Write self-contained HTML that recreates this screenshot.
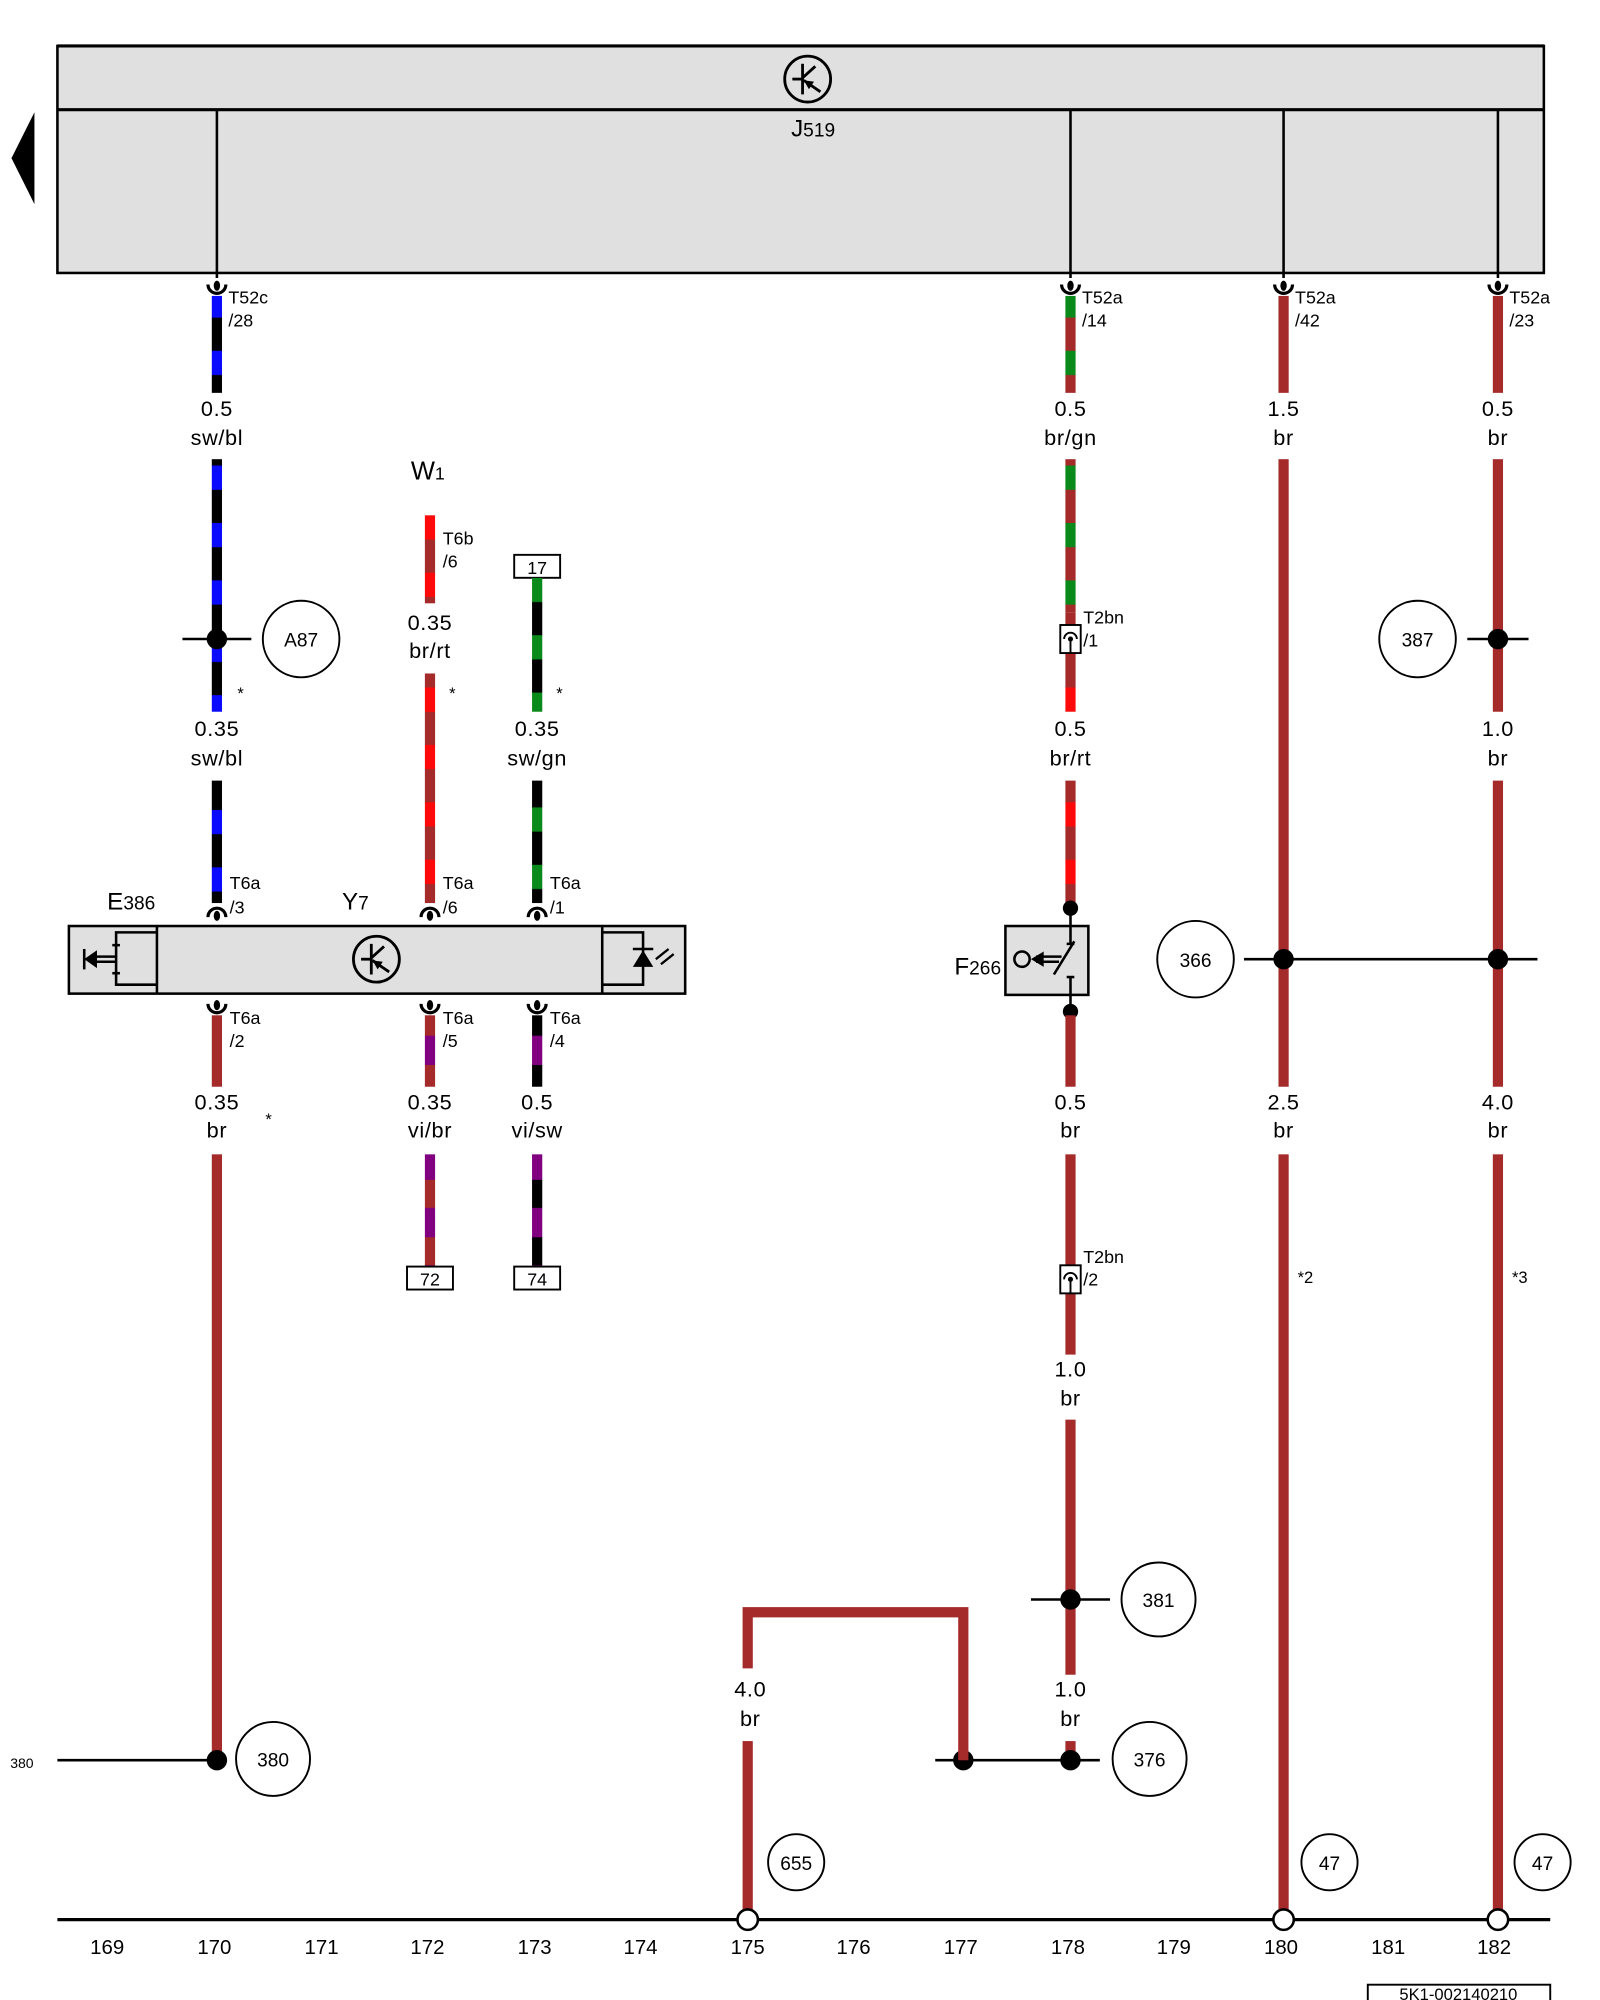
<!DOCTYPE html>
<html><head><meta charset="utf-8"><style>
html,body{margin:0;padding:0;background:#fff;}
svg{display:block;}
text{font-family:"Liberation Sans",Arial,sans-serif;fill:#000;}
.wl{font-size:17px;text-anchor:middle;letter-spacing:0.5px;}
.cl{font-size:14px;}
.ax{font-size:16px;text-anchor:middle;}
.cir{font-size:15px;text-anchor:middle;}
</style></head><body>
<svg width="1600" height="2000" viewBox="0 0 1254 1568" preserveAspectRatio="none" xmlns="http://www.w3.org/2000/svg">
<defs>
<pattern id="swbl" patternUnits="userSpaceOnUse" x="0" y="230" width="20" height="45"><rect width="20" height="45" fill="#000"/><rect width="20" height="19" fill="#0a0aff"/></pattern>
<pattern id="brgn" patternUnits="userSpaceOnUse" x="0" y="230" width="20" height="45"><rect width="20" height="45" fill="#a52a2a"/><rect width="20" height="19" fill="#0a8a1a"/></pattern>
<pattern id="brrt" patternUnits="userSpaceOnUse" x="0" y="404" width="20" height="45"><rect width="20" height="45" fill="#a52a2a"/><rect width="20" height="19" fill="#ff0a0a"/></pattern>
<pattern id="swgn" patternUnits="userSpaceOnUse" x="0" y="453" width="20" height="45"><rect width="20" height="45" fill="#000"/><rect width="20" height="19" fill="#0a8a1a"/></pattern>
<pattern id="vibr" patternUnits="userSpaceOnUse" x="0" y="790" width="20" height="45"><rect width="20" height="45" fill="#a52a2a"/><rect y="22" width="20" height="23" fill="#800080"/></pattern>
<pattern id="visw" patternUnits="userSpaceOnUse" x="0" y="790" width="20" height="45"><rect width="20" height="45" fill="#000"/><rect y="22" width="20" height="23" fill="#800080"/></pattern>
<g id="cu"><path d="M-7,-5 A7,7 0 0 0 7,-5" fill="none" stroke="#000" stroke-width="2.5"/><ellipse cx="0" cy="-4" rx="2.5" ry="4" fill="#000"/></g>
<g id="cn"><path d="M-7,5 A7,7 0 0 1 7,5" fill="none" stroke="#000" stroke-width="2.5"/><ellipse cx="0" cy="4" rx="2.5" ry="4" fill="#000"/></g>
<g id="t2"><rect x="-8" y="-11" width="16" height="22" fill="#fff" stroke="#000" stroke-width="1.5"/><path d="M-5,0 A5,5 0 0 1 5,0" fill="none" stroke="#000" stroke-width="1.5"/><line x1="0" y1="0" x2="0" y2="11" stroke="#000" stroke-width="1.5"/><circle cx="0" cy="0" r="2" fill="#000"/></g>
<g id="tr"><circle r="18" fill="none" stroke="#000" stroke-width="2.2"/><line x1="-4" y1="-12" x2="-4" y2="12" stroke="#000" stroke-width="2.2"/><line x1="-12" y1="0" x2="-4" y2="0" stroke="#000" stroke-width="2.2"/><line x1="-4" y1="-1" x2="6" y2="-10" stroke="#000" stroke-width="2.2"/><line x1="-3" y1="1" x2="10" y2="10" stroke="#000" stroke-width="2.2"/><polygon points="-3,1 5,2 1,8" fill="#000"/></g>
</defs>

<polygon points="27,88 27,160 9,124" fill="#000"/>

<rect x="45" y="36" width="1165" height="178" fill="#e0e0e0" stroke="#000" stroke-width="2"/>
<line x1="45" y1="86" x2="1210" y2="86" stroke="#000" stroke-width="2.5"/>
<line x1="45" y1="36" x2="1210" y2="36" stroke="#000" stroke-width="2.5"/>
<use href="#tr" x="633" y="62"/>
<text x="620" y="107" font-size="19">J<tspan font-size="15">519</tspan></text>
<g stroke="#000" stroke-width="2">
<line x1="170" y1="86" x2="170" y2="218"/>
<line x1="839" y1="86" x2="839" y2="218"/>
<line x1="1006" y1="86" x2="1006" y2="218"/>
<line x1="1174" y1="86" x2="1174" y2="218"/>
</g>
<use href="#cu" x="170" y="228"/><use href="#cu" x="839" y="228"/><use href="#cu" x="1006" y="228"/><use href="#cu" x="1174" y="228"/>
<text class="cl" x="179" y="238">T52c</text><text class="cl" x="179" y="256">/28</text>
<text class="cl" x="848" y="238">T52a</text><text class="cl" x="848" y="256">/14</text>
<text class="cl" x="1015" y="238">T52a</text><text class="cl" x="1015" y="256">/42</text>
<text class="cl" x="1183" y="238">T52a</text><text class="cl" x="1183" y="256">/23</text>

<rect x="166" y="232" width="8" height="76" fill="url(#swbl)"/>
<text class="wl" x="170" y="326">0.5</text><text class="wl" x="170" y="349">sw/bl</text>
<rect x="166" y="360" width="8" height="198" fill="url(#swbl)"/>
<line x1="143" y1="501" x2="197" y2="501" stroke="#000" stroke-width="2"/>
<circle cx="170" cy="501" r="8" fill="#000"/>
<circle cx="236" cy="501" r="30" fill="#fff" stroke="#000" stroke-width="1.5"/><text class="cir" x="236" y="507">A87</text>
<text x="186" y="548" font-size="13">*</text>
<text class="wl" x="170" y="577">0.35</text><text class="wl" x="170" y="600">sw/bl</text>
<rect x="166" y="612" width="8" height="96" fill="url(#swbl)"/>
<text class="cl" x="180" y="697">T6a</text><text class="cl" x="180" y="716">/3</text>
<rect x="166" y="796" width="8" height="56" fill="#a52a2a"/>
<text class="cl" x="180" y="803">T6a</text><text class="cl" x="180" y="821">/2</text>
<text class="wl" x="170" y="870">0.35</text><text class="wl" x="170" y="892">br</text>
<text x="208" y="882" font-size="13">*</text>
<rect x="166" y="905" width="8" height="475" fill="#a52a2a"/>
<line x1="45" y1="1380" x2="170" y2="1380" stroke="#000" stroke-width="2"/>
<text x="8" y="1386" font-size="11">380</text>
<circle cx="170" cy="1380" r="8" fill="#000"/>
<circle cx="214" cy="1379" r="29" fill="#fff" stroke="#000" stroke-width="1.5"/><text class="cir" x="214" y="1385">380</text>

<text x="322" y="376" font-size="20">W<tspan font-size="14">1</tspan></text>
<rect x="333" y="404" width="8" height="69" fill="url(#brrt)"/>
<text class="cl" x="347" y="427">T6b</text><text class="cl" x="347" y="445">/6</text>
<text class="wl" x="337" y="494">0.35</text><text class="wl" x="337" y="516">br/rt</text>
<rect x="333" y="528" width="8" height="180" fill="url(#brrt)"/>
<text x="352" y="548" font-size="13">*</text>
<text class="cl" x="347" y="697">T6a</text><text class="cl" x="347" y="716">/6</text>
<rect x="333" y="796" width="8" height="56" fill="url(#vibr)"/>
<text class="cl" x="347" y="803">T6a</text><text class="cl" x="347" y="821">/5</text>
<text class="wl" x="337" y="870">0.35</text><text class="wl" x="337" y="892">vi/br</text>
<rect x="333" y="905" width="8" height="88" fill="url(#vibr)"/>
<rect x="319" y="993" width="36" height="18" fill="#fff" stroke="#000" stroke-width="1.5"/><text x="337" y="1008" font-size="14" text-anchor="middle">72</text>

<rect x="403" y="435" width="36" height="18" fill="#fff" stroke="#000" stroke-width="1.5"/><text x="421" y="450" font-size="14" text-anchor="middle">17</text>
<rect x="417" y="453" width="8" height="105" fill="url(#swgn)"/>
<text x="436" y="548" font-size="13">*</text>
<text class="wl" x="421" y="577">0.35</text><text class="wl" x="421" y="600">sw/gn</text>
<rect x="417" y="612" width="8" height="96" fill="url(#swgn)"/>
<text class="cl" x="431" y="697">T6a</text><text class="cl" x="431" y="716">/1</text>
<rect x="417" y="796" width="8" height="56" fill="url(#visw)"/>
<text class="cl" x="431" y="803">T6a</text><text class="cl" x="431" y="821">/4</text>
<text class="wl" x="421" y="870">0.5</text><text class="wl" x="421" y="892">vi/sw</text>
<rect x="417" y="905" width="8" height="88" fill="url(#visw)"/>
<rect x="403" y="993" width="36" height="18" fill="#fff" stroke="#000" stroke-width="1.5"/><text x="421" y="1008" font-size="14" text-anchor="middle">74</text>

<text x="84" y="713" font-size="19">E<tspan font-size="15">386</tspan></text>
<text x="268" y="713" font-size="19">Y<tspan font-size="15">7</tspan></text>
<rect x="54" y="726" width="483" height="53" fill="#e0e0e0" stroke="#000" stroke-width="2"/>
<line x1="123" y1="726" x2="123" y2="779" stroke="#000" stroke-width="2"/>
<line x1="472" y1="726" x2="472" y2="779" stroke="#000" stroke-width="2"/>
<g stroke="#000" stroke-width="2" fill="none">
<polyline points="123,731 91,731 91,772 123,772"/>
<line x1="88" y1="741" x2="94" y2="741"/><line x1="88" y1="763" x2="94" y2="763"/>
<line x1="91" y1="750" x2="72" y2="750"/><line x1="91" y1="754" x2="72" y2="754"/>
<line x1="66" y1="744" x2="66" y2="760"/>
<polyline points="472,731 504,731 504,772 472,772"/>
<line x1="496" y1="744" x2="512" y2="744"/>
</g>
<polygon points="66,752 76,745 76,759" fill="#000"/>
<polygon points="504,745 496,758 512,758" fill="#000"/>
<g stroke="#000" stroke-width="1.8"><line x1="514" y1="752" x2="524" y2="744"/><line x1="518" y1="756" x2="528" y2="748"/></g>
<use href="#tr" x="295" y="752"/>
<use href="#cn" x="170" y="714"/><use href="#cn" x="337" y="714"/><use href="#cn" x="421" y="714"/>
<use href="#cu" x="170" y="792"/><use href="#cu" x="337" y="792"/><use href="#cu" x="421" y="792"/>

<rect x="835" y="232" width="8" height="76" fill="url(#brgn)"/>
<text class="wl" x="839" y="326">0.5</text><text class="wl" x="839" y="349">br/gn</text>
<rect x="835" y="360" width="8" height="120" fill="url(#brgn)"/>
<rect x="835" y="480" width="8" height="78" fill="url(#brrt)"/>
<use href="#t2" x="839" y="501"/>
<text class="cl" x="849" y="489">T2bn</text><text class="cl" x="849" y="507">/1</text>
<text class="wl" x="839" y="577">0.5</text><text class="wl" x="839" y="600">br/rt</text>
<rect x="835" y="612" width="8" height="100" fill="url(#brrt)"/>
<circle cx="839" cy="712" r="6" fill="#000"/>
<text x="748" y="764" font-size="19">F<tspan font-size="15">266</tspan></text>
<rect x="788" y="726" width="65" height="54" fill="#e0e0e0" stroke="#000" stroke-width="2"/>
<g stroke="#000" stroke-width="2" fill="none">
<line x1="839" y1="712" x2="839" y2="740"/><line x1="836" y1="740" x2="842" y2="740"/>
<line x1="842" y1="738" x2="826" y2="764"/>
<line x1="839" y1="766" x2="839" y2="793"/><line x1="836" y1="766" x2="842" y2="766"/>
<circle cx="801" cy="752" r="6"/>
<line x1="812" y1="750" x2="832" y2="750"/><line x1="812" y1="754" x2="830" y2="754"/>
</g>
<polygon points="808,752 818,746 818,758" fill="#000"/>
<circle cx="839" cy="793" r="6" fill="#000"/>
<rect x="835" y="796" width="8" height="56" fill="#a52a2a"/>
<text class="wl" x="839" y="870">0.5</text><text class="wl" x="839" y="892">br</text>
<rect x="835" y="905" width="8" height="157" fill="#a52a2a"/>
<use href="#t2" x="839" y="1003"/>
<text class="cl" x="849" y="990">T2bn</text><text class="cl" x="849" y="1008">/2</text>
<text class="wl" x="839" y="1079">1.0</text><text class="wl" x="839" y="1102">br</text>
<rect x="835" y="1113" width="8" height="200" fill="#a52a2a"/>
<line x1="808" y1="1254" x2="870" y2="1254" stroke="#000" stroke-width="2"/>
<circle cx="839" cy="1254" r="8" fill="#000"/>
<circle cx="908" cy="1254" r="29" fill="#fff" stroke="#000" stroke-width="1.5"/><text class="cir" x="908" y="1260">381</text>
<text class="wl" x="839" y="1330">1.0</text><text class="wl" x="839" y="1353">br</text>
<rect x="835" y="1365" width="8" height="15" fill="#a52a2a"/>
<line x1="733" y1="1380" x2="862" y2="1380" stroke="#000" stroke-width="2"/>
<circle cx="839" cy="1380" r="8" fill="#000"/>
<circle cx="755" cy="1380" r="8" fill="#000"/>
<circle cx="901" cy="1379" r="29" fill="#fff" stroke="#000" stroke-width="1.5"/><text class="cir" x="901" y="1385">376</text>

<path d="M586,1308 L586,1264 L755,1264 L755,1380" fill="none" stroke="#a52a2a" stroke-width="8"/>
<rect x="582" y="1365" width="8" height="140" fill="#a52a2a"/>
<text class="wl" x="588" y="1330">4.0</text><text class="wl" x="588" y="1353">br</text>
<circle cx="624" cy="1460" r="22" fill="#fff" stroke="#000" stroke-width="1.5"/><text class="cir" x="624" y="1466">655</text>

<rect x="1002" y="232" width="8" height="76" fill="#a52a2a"/>
<text class="wl" x="1006" y="326">1.5</text><text class="wl" x="1006" y="349">br</text>
<rect x="1002" y="360" width="8" height="492" fill="#a52a2a"/>
<text class="wl" x="1006" y="870">2.5</text><text class="wl" x="1006" y="892">br</text>
<rect x="1002" y="905" width="8" height="600" fill="#a52a2a"/>
<text x="1017" y="1006" font-size="13">*2</text>
<circle cx="1042" cy="1460" r="22" fill="#fff" stroke="#000" stroke-width="1.5"/><text class="cir" x="1042" y="1466">47</text>

<rect x="1170" y="232" width="8" height="76" fill="#a52a2a"/>
<text class="wl" x="1174" y="326">0.5</text><text class="wl" x="1174" y="349">br</text>
<rect x="1170" y="360" width="8" height="198" fill="#a52a2a"/>
<line x1="1150" y1="501" x2="1198" y2="501" stroke="#000" stroke-width="2"/>
<circle cx="1174" cy="501" r="8" fill="#000"/>
<circle cx="1111" cy="501" r="30" fill="#fff" stroke="#000" stroke-width="1.5"/><text class="cir" x="1111" y="507">387</text>
<text class="wl" x="1174" y="577">1.0</text><text class="wl" x="1174" y="600">br</text>
<rect x="1170" y="612" width="8" height="240" fill="#a52a2a"/>
<text class="wl" x="1174" y="870">4.0</text><text class="wl" x="1174" y="892">br</text>
<rect x="1170" y="905" width="8" height="600" fill="#a52a2a"/>
<text x="1185" y="1006" font-size="13">*3</text>
<circle cx="1209" cy="1460" r="22" fill="#fff" stroke="#000" stroke-width="1.5"/><text class="cir" x="1209" y="1466">47</text>

<line x1="975" y1="752" x2="1205" y2="752" stroke="#000" stroke-width="2"/>
<circle cx="1006" cy="752" r="8" fill="#000"/>
<circle cx="1174" cy="752" r="8" fill="#000"/>
<circle cx="937" cy="752" r="30" fill="#fff" stroke="#000" stroke-width="1.5"/><text class="cir" x="937" y="758">366</text>

<line x1="45" y1="1505" x2="1215" y2="1505" stroke="#000" stroke-width="2.5"/>
<circle cx="586" cy="1505" r="8" fill="#fff" stroke="#000" stroke-width="2"/>
<circle cx="1006" cy="1505" r="8" fill="#fff" stroke="#000" stroke-width="2"/>
<circle cx="1174" cy="1505" r="8" fill="#fff" stroke="#000" stroke-width="2"/>
<text class="ax" x="84" y="1532">169</text><text class="ax" x="168" y="1532">170</text><text class="ax" x="252" y="1532">171</text>
<text class="ax" x="335" y="1532">172</text><text class="ax" x="419" y="1532">173</text><text class="ax" x="502" y="1532">174</text>
<text class="ax" x="586" y="1532">175</text><text class="ax" x="669" y="1532">176</text><text class="ax" x="753" y="1532">177</text>
<text class="ax" x="837" y="1532">178</text><text class="ax" x="920" y="1532">179</text><text class="ax" x="1004" y="1532">180</text>
<text class="ax" x="1088" y="1532">181</text><text class="ax" x="1171" y="1532">182</text>

<rect x="1072" y="1556" width="143" height="20" fill="#fff" stroke="#000" stroke-width="1.5"/>
<text x="1143" y="1568" font-size="13" text-anchor="middle">5K1-002140210</text>
</svg>
</body></html>
